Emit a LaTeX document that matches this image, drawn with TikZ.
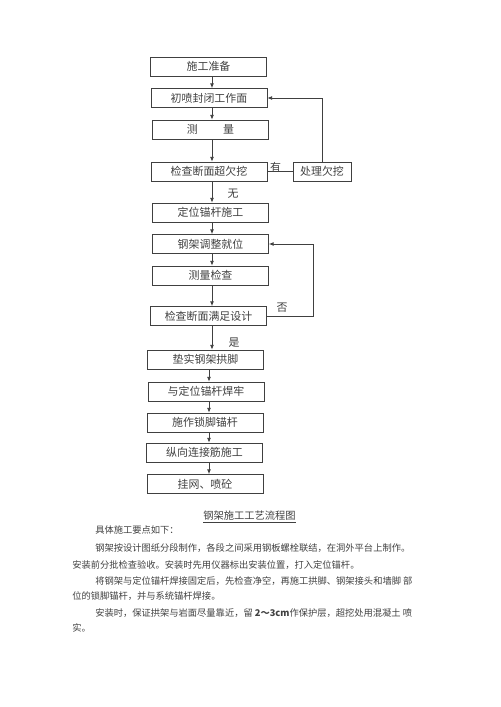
\documentclass[tikz,border=0pt]{standalone}
\usepackage{fontspec}
\newfontfamily\cjk{Noto Sans CJK SC}
\usetikzlibrary{arrows.meta}
\definecolor{ink}{HTML}{404040}

\begin{document}
\begin{tikzpicture}[x=0.75pt,y=-0.75pt,
    proc/.style={draw=ink, line width=0.6pt, minimum width=87pt, minimum height=14.25pt,
        inner sep=0pt, text=ink, font=\cjk\fontsize{8.2}{9}\selectfont},
    flow/.style={draw=ink, line width=0.6pt, -{Latex[length=3.5pt,width=3pt]}},
    lbl/.style={inner sep=0pt, text=ink, font=\cjk\fontsize{8.2}{9}\selectfont},
    para/.style={anchor=west, inner sep=0pt, text=ink, font=\cjk\fontsize{6.95}{8}\selectfont}]
    \useasboundingbox (0,0) rectangle (500,707);

    % Main steps
    \node[proc] (prep) at (208.5,66.5) {施工准备};
    \node[proc] (init) at (209,98) {初喷封闭工作面};
    \node[proc] (meas) at (210.5,129.5) {测\hspace{2.3em}量};
    \node[proc] (chk1) at (209,171.5) {检查断面超欠挖};
    \node[proc, minimum width=43.5pt] (fix) at (322,171.5) {处理欠挖};
    \node[proc] (dw) at (210.5,212.5) {定位锚杆施工};
    \node[proc] (adj) at (210.5,244) {钢架调整就位};
    \node[proc] (chkm) at (210.5,275.5) {测量检查};
    \node[proc] (chk2) at (208.5,316) {检查断面满足设计};
    \node[proc] (pad) at (205.5,359.5) {垫实钢架拱脚};
    \node[proc] (weld) at (206,391.5) {与定位锚杆焊牢};
    \node[proc] (lock) at (205,422.5) {施作锁脚锚杆};
    \node[proc] (lon) at (204.5,452.5) {纵向连接筋施工};
    \node[proc] (net) at (205,484) {挂网、喷砼};

    % Arrows down the middle
    \coordinate (up) at (212,0);
    \coordinate (lo) at (209,0);
    \foreach \a/\b in {prep/init, init/meas, meas/chk1, chk1/dw, dw/adj, adj/chkm, chkm/chk2, chk2/pad} {
        \draw[flow] (\a.south -| up) -- (\b.north -| up);
    }
    \foreach \a/\b in {pad/weld, weld/lock, lock/lon, lon/net} {
        \draw[flow] (\a.south -| lo) -- (\b.north -| lo);
    }

    % Loops back
    \draw[ink, line width=0.6pt] (fix.west -| chk1.east) -- (fix.west);
    \draw[flow] (fix.north) |- (init.east);
    \coordinate (back) at (313,0);
    \draw[flow] (chk2.east) -- (chk2.east -| back) |- (adj.east);

    % Branch labels
    \node[lbl] (yes1) at (275.5,167) {有};
    \node[lbl] (no1) at (233,194) {无};
    \node[lbl] (no2) at (282,307.5) {否};
    \node[lbl] (yes2) at (234,343) {是};

    % Caption
    \node[inner sep=0pt, text=ink, font=\cjk\fontsize{7.7}{9}\selectfont] (cap) at (249.5,516) {钢架施工工艺流程图};
    \draw[ink, line width=0.4pt] ([yshift=-1pt]cap.south west) -- ([yshift=-1pt]cap.south east);

    % Notes
    \node[para] (p0) at (95,530) {具体施工要点如下：};
    \node[para] (p1) at (95,548) {钢架按设计图纸分段制作，各段之间采用钢板螺栓联结，在洞外平台上制作。};
    \node[para] (p2) at (72,565) {安装前分批检查验收。安装时先用仪器标出安装位置，打入定位锚杆。};
    \node[para] (p3) at (95,581) {将钢架与定位锚杆焊接固定后，先检查净空，再施工拱脚、钢架接头和墙脚 部};
    \node[para] (p4) at (72,596) {位的锁脚锚杆，并与系统锚杆焊接。};
    \node[para] (p5) at (95,613) {安装时，保证拱架与岩面尽量靠近，留 {\bfseries 2～3cm}作保护层，超挖处用混凝土 喷};
    \node[para] (p6) at (72,628) {实。};
\end{tikzpicture}
\end{document}
